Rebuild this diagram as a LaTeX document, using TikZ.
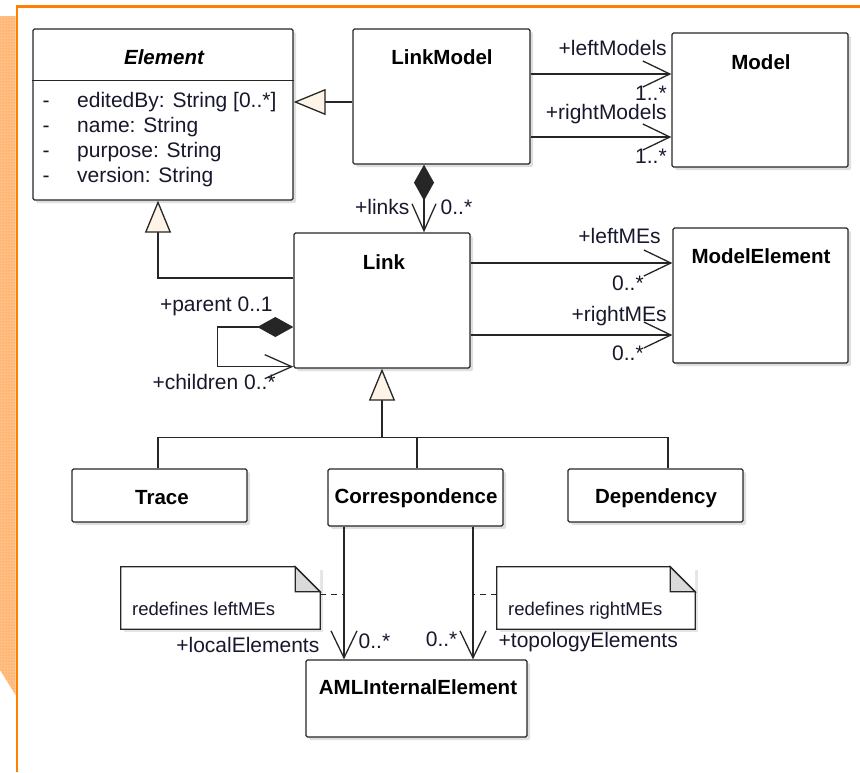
\documentclass[tikz,border=0pt]{standalone}
\usepackage{fontspec}
\setmainfont{Liberation Sans}
\usepackage{tikz}
\usetikzlibrary{arrows.meta}
\usetikzlibrary{shadows}
\usetikzlibrary{patterns}
\definecolor{frameorange}{RGB}{255,128,0}
\definecolor{hatchorange}{RGB}{255,190,130}
\definecolor{dotorange}{RGB}{250,150,60}
\definecolor{genfill}{RGB}{253,243,230}
\definecolor{foldgray}{RGB}{218,218,218}
\definecolor{umltext}{RGB}{24,24,44}
% outline of a UML note with its folded corner
\newcommand{\notefold}[1]{%
  \fill[white] (#1.north east) -- ([xshift=-25pt]#1.north east) -- ([yshift=-25pt]#1.north east) -- cycle;
  \draw[umlline] (#1.south west) -- (#1.north west) -- ([xshift=-25pt]#1.north east)
    -- ([yshift=-25pt]#1.north east) -- (#1.south east) -- cycle;
  \filldraw[umlline,fill=foldgray] ([xshift=-25pt]#1.north east)
    -- ([xshift=-25pt,yshift=-25pt]#1.north east) -- ([yshift=-25pt]#1.north east) -- cycle;
}

\begin{document}
\begin{tikzpicture}[x=1pt,y=-1pt,
    umlline/.style={draw=black!85,line width=1.3pt},
    class/.style={umlline,fill=white,rounded corners=1.5pt,inner sep=0pt,
      drop shadow={shadow xshift=3pt,shadow yshift=-3pt,fill=black!25,opacity=0.5}},
    note/.style={fill=white,inner sep=0pt,
      drop shadow={shadow xshift=3pt,shadow yshift=-3pt,fill=black!25,opacity=0.4}},
    title/.style={font=\fontsize{20.5}{24}\selectfont\bfseries,inner sep=0pt},
    lbl/.style={font=\fontsize{21}{25}\selectfont,text=umltext,inner sep=0pt},
    notetext/.style={font=\fontsize{18.5}{22}\selectfont,text=umltext,inner sep=0pt},
    gen/.style={umlline,-{Triangle[length=32pt,width=26pt,fill=genfill]}},
    assoc/.style={umlline,-{Straight Barb[length=27pt,width=26pt]}},
    comp/.style={umlline,{Diamond[length=36pt,width=20pt]}-{Straight Barb[length=27pt,width=24pt]}},
    redef/.style={umlline,line width=1pt,dash pattern=on 6pt off 5pt}]
\useasboundingbox (0,0) rectangle (860,772);

% frame
\fill[hatchorange] (0,16) -- (15.5,16) -- (15.5,695) -- (0,670) -- cycle;
\fill[pattern=dots,pattern color=dotorange] (0,16) -- (15.5,16) -- (15.5,695) -- (0,670) -- cycle;
\draw[frameorange,line width=2.5pt] (17,772) -- (17,6.5) -- (860,6.5);

% classes
\node[class,minimum width=260pt,minimum height=171pt] (element) at (163,114.5) {};
\node[class,minimum width=177pt,minimum height=135pt] (linkmodel) at (441.5,96.5) {};
\node[class,minimum width=176pt,minimum height=134pt] (model) at (760,100) {};
\node[class,minimum width=176pt,minimum height=135pt] (link) at (382,300.5) {};
\node[class,minimum width=175pt,minimum height=135pt] (modelelement) at (760.5,295.5) {};
\node[class,minimum width=175pt,minimum height=53pt] (trace) at (159.5,495.5) {};
\node[class,minimum width=175pt,minimum height=57pt] (correspondence) at (415.5,497.5) {};
\node[class,minimum width=175pt,minimum height=53pt] (dependency) at (655.5,495.5) {};
\node[class,minimum width=221pt,minimum height=77pt] (amlelement) at (416.5,698.5) {};

\node[title] (element-title) at (164,57) {\itshape Element};
\node[title] (linkmodel-title) at (442,57) {LinkModel};
\node[title] (model-title) at (761,62) {Model};
\node[title] (link-title) at (384,262) {Link};
\node[title] (modelelement-title) at (761,256) {ModelElement};
\node[title] (trace-title) at (162,498) {Trace};
\node[title] (correspondence-title) at (416,498) {Correspondence};
\node[title] (dependency-title) at (656,498) {Dependency};
\node[title] (amlelement-title) at (418,687) {AMLInternalElement};

% attributes of Element
\draw[umlline] ([yshift=-52pt]element.north west) -- ([yshift=-52pt]element.north east);
\foreach \attr [count=\i from 0] in {{editedBy: String [0..*]},{name: String},{purpose: String},{version: String}}
  {\node[lbl,anchor=base] (dash\i) at (46,107+25.3*\i) {-};
   \node[lbl,anchor=base west] (attr\i) at (77,107+25.3*\i) {\attr};}

% generalizations
\draw[gen] ([yshift=-5.5pt]linkmodel.west) coordinate (lmgen) -- (lmgen -| element.east);
\draw[gen] ([yshift=22.5pt]link.west) -| ([xshift=-5pt]element.south);
\path (link.south) ++(0,69) coordinate (bus);
\draw[gen] (bus) -- (link.south);
\draw[umlline] ([xshift=-1.5pt]trace.north) |- (bus) -| ([xshift=12.5pt]dependency.north);
\draw[umlline] ([xshift=1.5pt]correspondence.north) coordinate (cdrop) -- (cdrop |- bus);

% associations
\draw[assoc] ([yshift=22.5pt]linkmodel.east) coordinate (lmleft) -- (lmleft -| model.west)
  node[lbl,at end,anchor=base east,xshift=-4pt,yshift=19pt] {+leftModels}
  node[lbl,at end,anchor=base east,xshift=-4pt,yshift=-26pt] {1..*};
\draw[assoc] ([yshift=-40.5pt]linkmodel.east) coordinate (lmright) -- (lmright -| model.west)
  node[lbl,at end,anchor=base east,xshift=-4pt,yshift=18pt] {+rightModels}
  node[lbl,at end,anchor=base east,xshift=-4pt,yshift=-26pt] {1..*};
\draw[assoc] ([yshift=37.5pt]link.east) coordinate (lkleft) -- (lkleft -| modelelement.west)
  node[lbl,at end,anchor=base east,xshift=-11pt,yshift=20pt] {+leftMEs}
  node[lbl,at end,anchor=base east,xshift=-28pt,yshift=-27pt] {0..*};
\draw[assoc] ([yshift=-34.5pt]link.east) coordinate (lkright) -- (lkright -| modelelement.west)
  node[lbl,at end,anchor=base east,xshift=-5pt,yshift=14pt] {+rightMEs}
  node[lbl,at end,anchor=base east,xshift=-28pt,yshift=-25pt] {0..*};

% compositions
\draw[comp] ([xshift=-17.5pt]linkmodel.south) coordinate (lmlinks) -- (lmlinks |- link.north)
  node[lbl,at end,anchor=base east,xshift=-14pt,yshift=18pt] {+links}
  node[lbl,at end,anchor=base west,xshift=16pt,yshift=18pt] {0..*};
\draw[comp] ([yshift=-26.5pt]link.west) -- ++(-76,0)
  node[lbl,at start,anchor=base east,xshift=-20pt,yshift=16pt] {+parent 0..1}
  |- ([yshift=2pt]link.south west)
  node[lbl,at end,anchor=base east,xshift=-17pt,yshift=-23pt] {+children 0..*};

% Correspondence ends
\draw[assoc] ([xshift=-71.5pt]correspondence.south) coordinate (localtop) -- (localtop |- amlelement.north)
  node[lbl,at end,anchor=base east,xshift=-24pt,yshift=7pt] {+localElements}
  node[lbl,at end,anchor=base west,xshift=14pt,yshift=11pt] {0..*};
\draw[assoc] ([xshift=57.5pt]correspondence.south) coordinate (topotop) -- (topotop |- amlelement.north)
  node[lbl,at end,anchor=base east,xshift=-15pt,yshift=13pt] {0..*}
  node[lbl,at end,anchor=base west,xshift=25pt,yshift=12pt] {+topologyElements};

% notes
\node[note,minimum width=199pt,minimum height=62pt] (leftnote) at (220.5,598) {};
\notefold{leftnote}
\node[notetext,anchor=base west] (leftnotetext) at (132,615) {redefines leftMEs};
\node[note,minimum width=198pt,minimum height=62pt] (rightnote) at (596,598) {};
\notefold{rightnote}
\node[notetext,anchor=base west] (rightnotetext) at (508,615) {redefines rightMEs};
\draw[redef] ([yshift=4pt]leftnote.east) coordinate (leftanchor) -- (leftanchor -| localtop);
\draw[redef] ([yshift=4pt]rightnote.west) coordinate (rightanchor) -- (rightanchor -| topotop);
\end{tikzpicture}
\end{document}
